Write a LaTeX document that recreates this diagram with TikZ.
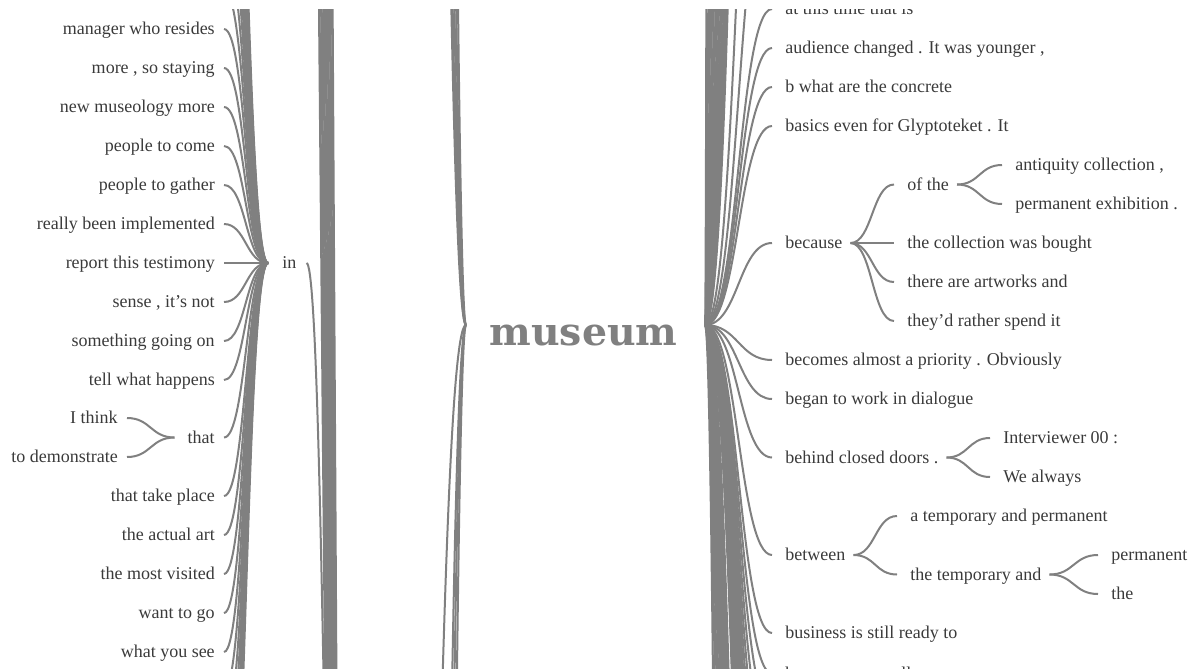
\documentclass[tikz,border=0pt]{standalone}
\usepackage{fontspec}
\setmainfont{Liberation Serif}
\newfontfamily\museumfont{DejaVu Serif}
\usetikzlibrary{calc}
\definecolor{linkgray}{RGB}{128,128,128}
\definecolor{wordgray}{RGB}{58,58,58}
\tikzset{
  link/.style={draw=linkgray, line width=1.5pt},
  word/.style={font=\fontsize{13.5pt}{16pt}\selectfont, text=wordgray, inner sep=0pt, yshift=-1.9pt},
  lw/.style={word, anchor=mid east},
  rw/.style={word, anchor=mid west},
}
% word-tree connector: cubic with horizontal tangents, controls at mid x
\newcommand\wt[2]{\draw[link] let \p1=(#1), \p2=(#2) in (\p1) .. controls ({0.5*\x1+0.5*\x2},\y1) and ({0.5*\x1+0.5*\x2},\y2) .. (\p2);}
% connector to a far-off (clipped) node: first part of the same cubic
\newcommand\farlink[5]{%
  \pgfmathsetmacro\wtA{abs(#5)}%
  \pgfmathsetmacro\wtB{#5<0 ? -1 : 1}%
  \coordinate (fe) at ({#2+3*#4*\wtA*(1-\wtA)+2*#4*\wtA*\wtA*\wtA},{#3+\wtB*1500*(3-2*\wtA)});
  \draw[link] (#1) .. controls ({#2+#4*\wtA},#3) and ({#2+#4*(2*\wtA-\wtA*\wtA)},{#3+\wtB*1500}) .. (fe);}
\begin{document}
\begin{tikzpicture}[x=0.75pt,y=-0.75pt]
\useasboundingbox (0,0) rectangle (1201,668);
\begin{scope}
\clip (0,9) rectangle (1201,668);

% ---------- root ----------
\node[font=\museumfont\bfseries, text=linkgray, inner sep=0pt, anchor=base] (root) at (583.5,345) {\resizebox{141pt}{15.4pt}{museum}};
\coordinate (rootL) at (466,325);
\coordinate (rootR) at (705,325);

% ---------- left side ----------
\node[rw] (in) at (282,263) {in};
\coordinate (inL) at ([xshift=-10.5pt,yshift=1.9pt]in.mid west);

\node[lw] (l0)  at (215,29)  {manager who resides};
\node[lw] (l1)  at (215,68)  {more , so staying};
\node[lw] (l2)  at (215,107) {new museology more};
\node[lw] (l3)  at (215,146) {people to come};
\node[lw] (l4)  at (215,185) {people to gather};
\node[lw] (l5)  at (215,224) {really been implemented};
\node[lw] (l6)  at (215,263) {report this testimony};
\node[lw] (l7)  at (215,302) {sense , it's not};
\node[lw] (l8)  at (215,341) {something going on};
\node[lw] (l9)  at (215,380) {tell what happens};
\node[lw] (that) at (215,437.5) {that};
\node[lw] (ithink) at (118,418) {I think};
\node[lw] (todem)  at (118,457) {to demonstrate};
\node[lw] (l12) at (215,496) {that take place};
\node[lw] (l13) at (215,535) {the actual art};
\node[lw] (l14) at (215,574) {the most visited};
\node[lw] (l15) at (215,613) {want to go};
\node[lw] (l16) at (215,652) {what you see};

\foreach \nm in {l0,l1,l2,l3,l4,l5,l6,l7,l8,l9,that,l12,l13,l14,l15,l16}
  {\wt{[xshift=6.75pt,yshift=1.9pt]\nm.mid east}{inL}}
\wt{[xshift=6.75pt,yshift=1.9pt]ithink.mid east}{[xshift=-9.75pt,yshift=1.9pt]that.mid west}
\wt{[xshift=6.75pt,yshift=1.9pt]todem.mid east}{[xshift=-9.75pt,yshift=1.9pt]that.mid west}

% children of "in" outside the view
\foreach \k in {1,...,11} {\coordinate (ia\k) at (224,{29-39*\k}); \wt{ia\k}{inL}}
\foreach \k in {1,...,7} {\coordinate (ib\k) at (224,{652+39*\k}); \wt{ib\k}{inL}}

% parent of "in" (below the view)
\coordinate (inP) at (345,1330);
\wt{[xshift=7.5pt,yshift=1.9pt]in.mid east}{inP}

% bundle of level-2 links
\foreach \i in {0,...,6} {
  \coordinate (bt\i) at ({319+2.2*\i},-20);
  \coordinate (bb\i) at ({325.5+1.8*\i},700);
  \draw[link, line width=1.9pt] (bt\i) -- (bb\i);
}

% level-1 links to the root (far above / below)
\foreach \q in {-0.32,-0.4,-0.48,-0.56,-0.62,0.35,0.45,0.55,1}
  {\farlink{rootL}{466}{325}{-33}{\q}}

% ---------- right side ----------
\node[rw] (r0) at (785,9)   {at this time that is};
\node[rw] (r1) at (785,48)  {audience changed . It was younger ,};
\node[rw] (r2) at (785,87)  {b what are the concrete};
\node[rw] (r3) at (785,126) {basics even for Glyptoteket . It};
\node[rw] (because) at (785,243) {because};
\node[rw] (becomes) at (785,360) {becomes almost a priority . Obviously};
\node[rw] (began)   at (785,399) {began to work in dialogue};
\node[rw] (behind)  at (785,457.5) {behind closed doors .};
\node[rw] (between) at (785,555) {between};
\node[rw] (business) at (785,633) {business is still ready to};
\node[rw] (by) at (785,673.5) {by any means, all};

\foreach \nm in {r0,r1,r2,r3,because,becomes,began,behind,between,business,by}
  {\wt{rootR}{[xshift=-9.75pt,yshift=1.9pt]\nm.mid west}}

\node[rw] (ofthe) at (907,184.5) {of the};
\node[rw] (coll)  at (907,243) {the collection was bought};
\node[rw] (artw)  at (907,282) {there are artworks and};
\node[rw] (spend) at (907,321) {they'd rather spend it};
\node[rw] (antiq) at (1015,165) {antiquity collection ,};
\node[rw] (permx) at (1015,204) {permanent exhibition .};
\node[rw] (interv) at (1003,438) {Interviewer 00 :};
\node[rw] (always) at (1003,477) {We always};
\node[rw] (atemp) at (910,516) {a temporary and permanent};
\node[rw] (ttemp) at (910,574.5) {the temporary and};
\node[rw] (perm) at (1111,555) {permanent};
\node[rw] (the)  at (1111,594) {the};

\foreach \nm in {ofthe,coll,artw,spend}
  {\wt{[xshift=6pt,yshift=1.9pt]because.mid east}{[xshift=-9.75pt,yshift=1.9pt]\nm.mid west}}
\foreach \nm in {antiq,permx}
  {\wt{[xshift=6pt,yshift=1.9pt]ofthe.mid east}{[xshift=-9.75pt,yshift=1.9pt]\nm.mid west}}
\foreach \nm in {interv,always}
  {\wt{[xshift=6pt,yshift=1.9pt]behind.mid east}{[xshift=-9.75pt,yshift=1.9pt]\nm.mid west}}
\foreach \nm in {atemp,ttemp}
  {\wt{[xshift=6pt,yshift=1.9pt]between.mid east}{[xshift=-9.75pt,yshift=1.9pt]\nm.mid west}}
\foreach \nm in {perm,the}
  {\wt{[xshift=6pt,yshift=1.9pt]ttemp.mid east}{[xshift=-9.75pt,yshift=1.9pt]\nm.mid west}}

% right-hand items outside the view
\coordinate (ra1) at (772,-130); \wt{rootR}{ra1}
\coordinate (ra2) at (772,-420); \wt{rootR}{ra2}
\foreach \k in {1,...,20} {\coordinate (rb\k) at (772,{672+39*\k}); \wt{rootR}{rb\k}}
\foreach \q in {-0.05,-0.125,-0.2,-0.275,-0.35,-0.425,-0.5,-0.575,-0.65,-0.725,-0.8,-0.875,-0.95,-1}
  {\farlink{rootR}{705}{325}{33.5}{\q}}
\foreach \q in {0.3,0.37,0.44,0.51,0.58,0.65,0.72,0.79,0.86,0.93,1}
  {\farlink{rootR}{705}{325}{33.5}{\q}}
\end{scope}
\end{tikzpicture}
\end{document}
